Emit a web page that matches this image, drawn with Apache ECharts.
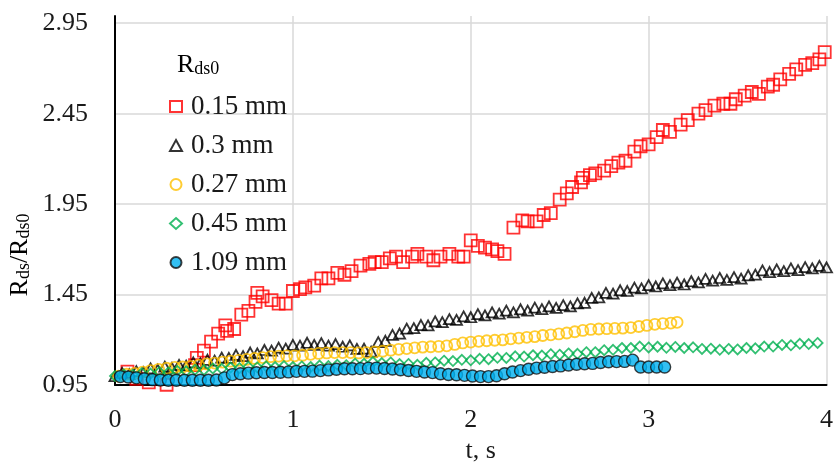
<!DOCTYPE html>
<html><head><meta charset="utf-8">
<script src="https://cdn.jsdelivr.net/npm/echarts@6/dist/echarts.min.js"></script>
<style>html,body{margin:0;padding:0;background:#fff}#c{width:836px;height:469px}</style>
</head><body><div id="c"></div>
<script>
const seriesNames = ['0.15 mm', '0.3 mm', '0.27 mm', '0.45 mm', '1.09 mm'];
const xTicks = [0, 1, 2, 3, 4];
const yTicks = [0.95, 1.45, 1.95, 2.45, 2.95];

const red = [[0.07,1.025],[0.12,0.985],[0.19,0.965],[0.29,0.952],[0.45,1.06],[0.46,1.10],[0.50,1.14],[0.54,1.19],[0.58,1.235],[0.62,1.28],[0.63,1.25],[0.67,1.26],[0.71,1.34],[0.75,1.36],[0.79,1.41],[0.80,1.46],[0.83,1.44],[0.88,1.42],[0.92,1.40],[0.96,1.40],[1.00,1.47],[1.04,1.48],[1.07,1.49],[1.12,1.50],[1.16,1.54],[1.20,1.54],[1.25,1.57],[1.29,1.56],[1.33,1.58],[1.38,1.61],[1.43,1.62],[1.46,1.63],[1.50,1.63],[1.545,1.65],[1.58,1.66],[1.62,1.63],[1.67,1.66],[1.70,1.675],[1.75,1.66],[1.79,1.64],[1.83,1.66],[1.88,1.675],[1.93,1.66],[1.96,1.66],[2.00,1.75],[2.04,1.72],[2.08,1.71],[2.12,1.70],[2.15,1.69],[2.19,1.675],[2.24,1.82],[2.29,1.86],[2.32,1.855],[2.37,1.855],[2.41,1.89],[2.45,1.90],[2.50,1.975],[2.54,2.01],[2.57,2.045],[2.62,2.07],[2.63,2.095],[2.67,2.11],[2.70,2.12],[2.75,2.135],[2.79,2.16],[2.83,2.18],[2.87,2.19],[2.92,2.24],[2.955,2.27],[3.00,2.28],[3.045,2.32],[3.08,2.36],[3.12,2.35],[3.18,2.39],[3.22,2.415],[3.28,2.45],[3.32,2.47],[3.37,2.495],[3.42,2.505],[3.46,2.505],[3.49,2.53],[3.54,2.55],[3.58,2.57],[3.62,2.56],[3.67,2.60],[3.70,2.61],[3.74,2.64],[3.79,2.67],[3.83,2.695],[3.88,2.72],[3.92,2.73],[3.96,2.75],[3.99,2.79]];

const black = [[0.00,1.000],[0.04,1.017],[0.08,1.010],[0.12,1.027],[0.16,1.022],[0.20,1.042],[0.24,1.035],[0.28,1.052],[0.32,1.045],[0.36,1.062],[0.40,1.057],[0.44,1.076],[0.48,1.070],[0.52,1.090],[0.56,1.085],[0.60,1.102],[0.64,1.100],[0.68,1.117],[0.72,1.110],[0.76,1.130],[0.80,1.125],[0.84,1.144],[0.88,1.140],[0.92,1.157],[0.96,1.152],[1.00,1.172],[1.04,1.168],[1.08,1.184],[1.12,1.172],[1.16,1.182],[1.20,1.168],[1.24,1.177],[1.28,1.162],[1.32,1.170],[1.36,1.150],[1.40,1.152],[1.44,1.135],[1.48,1.187],[1.52,1.195],[1.56,1.227],[1.60,1.235],[1.64,1.262],[1.68,1.265],[1.72,1.282],[1.76,1.280],[1.80,1.302],[1.84,1.298],[1.88,1.315],[1.92,1.310],[1.96,1.330],[2.00,1.325],[2.04,1.342],[2.08,1.335],[2.12,1.352],[2.16,1.345],[2.20,1.362],[2.24,1.352],[2.28,1.369],[2.32,1.362],[2.36,1.378],[2.40,1.370],[2.44,1.385],[2.48,1.377],[2.52,1.392],[2.56,1.385],[2.60,1.402],[2.64,1.405],[2.68,1.432],[2.72,1.435],[2.76,1.460],[2.80,1.455],[2.84,1.474],[2.88,1.470],[2.92,1.489],[2.96,1.485],[3.00,1.502],[3.04,1.495],[3.08,1.512],[3.12,1.502],[3.16,1.516],[3.20,1.506],[3.24,1.524],[3.28,1.518],[3.32,1.537],[3.36,1.527],[3.40,1.542],[3.44,1.532],[3.48,1.547],[3.52,1.538],[3.56,1.557],[3.60,1.560],[3.64,1.584],[3.68,1.575],[3.72,1.590],[3.76,1.580],[3.80,1.595],[3.84,1.585],[3.88,1.602],[3.92,1.595],[3.96,1.609],[4.00,1.600]];

const yellow = [[0.02,1.000],[0.065,1.010],[0.11,1.015],[0.155,1.022],[0.20,1.030],[0.245,1.037],[0.29,1.043],[0.335,1.048],[0.38,1.050],[0.425,1.054],[0.47,1.060],[0.515,1.067],[0.56,1.072],[0.605,1.077],[0.65,1.082],[0.695,1.087],[0.74,1.092],[0.785,1.097],[0.83,1.102],[0.875,1.107],[0.92,1.110],[0.965,1.112],[1.01,1.112],[1.055,1.115],[1.10,1.120],[1.145,1.125],[1.19,1.128],[1.235,1.130],[1.28,1.130],[1.325,1.130],[1.37,1.128],[1.415,1.130],[1.46,1.133],[1.505,1.137],[1.55,1.143],[1.595,1.148],[1.64,1.152],[1.685,1.156],[1.73,1.160],[1.775,1.162],[1.82,1.164],[1.865,1.167],[1.91,1.175],[1.955,1.183],[2.00,1.188],[2.045,1.192],[2.09,1.195],[2.135,1.198],[2.18,1.200],[2.225,1.206],[2.27,1.210],[2.315,1.214],[2.36,1.218],[2.405,1.224],[2.45,1.228],[2.495,1.233],[2.54,1.238],[2.585,1.245],[2.63,1.252],[2.675,1.258],[2.72,1.260],[2.765,1.262],[2.81,1.263],[2.855,1.265],[2.90,1.268],[2.945,1.274],[2.99,1.280],[3.035,1.286],[3.08,1.290],[3.125,1.293],[3.16,1.297]];

const green = [[0.00,1.000],[0.05,1.008],[0.10,1.008],[0.15,1.016],[0.20,1.014],[0.25,1.022],[0.30,1.020],[0.35,1.029],[0.40,1.027],[0.45,1.035],[0.50,1.034],[0.55,1.042],[0.60,1.040],[0.65,1.047],[0.70,1.044],[0.75,1.051],[0.80,1.048],[0.85,1.054],[0.90,1.050],[0.95,1.055],[1.00,1.050],[1.05,1.053],[1.10,1.050],[1.15,1.058],[1.20,1.055],[1.25,1.062],[1.30,1.060],[1.35,1.069],[1.40,1.068],[1.45,1.077],[1.50,1.072],[1.55,1.075],[1.60,1.066],[1.65,1.067],[1.70,1.062],[1.75,1.073],[1.80,1.075],[1.85,1.085],[1.90,1.083],[1.95,1.090],[2.00,1.087],[2.05,1.095],[2.10,1.093],[2.15,1.101],[2.20,1.100],[2.25,1.109],[2.30,1.108],[2.35,1.115],[2.40,1.113],[2.45,1.121],[2.50,1.118],[2.55,1.125],[2.60,1.123],[2.65,1.132],[2.70,1.132],[2.75,1.143],[2.80,1.145],[2.85,1.155],[2.90,1.155],[2.95,1.163],[3.00,1.158],[3.05,1.162],[3.10,1.156],[3.15,1.161],[3.20,1.155],[3.25,1.159],[3.30,1.150],[3.35,1.151],[3.40,1.145],[3.45,1.150],[3.50,1.147],[3.55,1.155],[3.60,1.153],[3.65,1.163],[3.70,1.163],[3.75,1.172],[3.80,1.170],[3.85,1.178],[3.90,1.177],[3.95,1.183]];

const blue = [[0.03,0.997],[0.075,0.995],[0.12,0.990],[0.165,0.985],[0.21,0.980],[0.255,0.978],[0.30,0.977],[0.345,0.977],[0.39,0.977],[0.435,0.977],[0.48,0.977],[0.525,0.977],[0.57,0.978],[0.615,0.990],[0.66,1.008],[0.705,1.013],[0.75,1.016],[0.795,1.018],[0.84,1.020],[0.885,1.020],[0.93,1.021],[0.975,1.023],[1.02,1.026],[1.065,1.026],[1.11,1.027],[1.155,1.030],[1.20,1.034],[1.245,1.038],[1.29,1.040],[1.335,1.040],[1.38,1.041],[1.425,1.044],[1.47,1.044],[1.515,1.042],[1.56,1.039],[1.605,1.035],[1.65,1.031],[1.695,1.026],[1.74,1.022],[1.785,1.019],[1.83,1.013],[1.875,1.009],[1.92,1.007],[1.965,1.004],[2.01,1.000],[2.055,0.997],[2.10,0.997],[2.145,1.002],[2.19,1.013],[2.235,1.022],[2.28,1.030],[2.325,1.038],[2.37,1.044],[2.415,1.049],[2.46,1.053],[2.505,1.056],[2.55,1.061],[2.595,1.065],[2.64,1.068],[2.685,1.070],[2.73,1.075],[2.775,1.079],[2.82,1.080],[2.865,1.081],[2.91,1.088],[2.955,1.050],[3.00,1.050],[3.045,1.050],[3.09,1.050]];

const FONT = 'Liberation Serif';
const TXT = '#1a1a1a';
const chart = echarts.init(document.getElementById('c'), null, {renderer: 'canvas'});
const rich = {
  big: {fontFamily: FONT, fontSize: 26, color: TXT},
  sub: {fontFamily: FONT, fontSize: 18, color: TXT, padding: [8, 0, 0, 0]}
};
chart.setOption({
  animation: false,
  backgroundColor: '#fff',
  grid: {left: 115, top: 16, width: 722, bottom: 67},
  graphic: [
    {type: 'text', left: 177, top: 52, style: {text: '{big|R}{sub|ds0}', rich: rich}},
    {type: 'text', x: 20, y: 255, rotation: Math.PI / 2,
      style: {text: '{big|R}{sub|ds}{big|/R}{sub|ds0}', rich: rich, align: 'center', verticalAlign: 'middle'}}
  ],
  legend: {
    orient: 'vertical', left: 164, top: 88, itemGap: 12,
    itemWidth: 12, itemHeight: 11,
    textStyle: {fontFamily: FONT, fontSize: 27, color: TXT, padding: [0, 0, 0, 4]},
    data: seriesNames
  },
  xAxis: {
    type: 'value', min: xTicks[0], max: xTicks[xTicks.length - 1], interval: 1,
    name: 't, s', nameLocation: 'middle', nameGap: 38,
    nameTextStyle: {fontFamily: FONT, fontSize: 26, color: TXT, padding: [0, 0, 0, 20]},
    axisLine: {lineStyle: {color: '#000', width: 2}},
    axisTick: {show: false},
    axisLabel: {fontFamily: FONT, fontSize: 26, color: TXT, margin: 22},
    splitLine: {show: true, lineStyle: {color: '#d9d9d9', width: 1.5}}
  },
  yAxis: {
    type: 'value', min: yTicks[0], max: 2.99, interval: 0.5,
    axisLine: {show: true, lineStyle: {color: '#000', width: 2}},
    axisTick: {show: false},
    axisLabel: {fontFamily: FONT, fontSize: 26, color: TXT, margin: 27, showMaxLabel: false,
      formatter: v => v.toFixed(2)},
    splitLine: {show: true, showMaxLine: false, lineStyle: {color: '#d9d9d9', width: 1.5}}
  },
  series: [
    {name: seriesNames[0], type: 'scatter', data: red, symbol: 'rect', symbolSize: 12,
      itemStyle: {color: 'rgba(255,255,255,0)', borderColor: '#ff0000', borderWidth: 1.8}},
    {name: seriesNames[1], type: 'scatter', data: black, symbol: 'triangle', symbolSize: [11, 10],
      itemStyle: {color: 'rgba(255,255,255,0)', borderColor: '#000', borderWidth: 1.8}},
    {name: seriesNames[2], type: 'scatter', data: yellow, symbol: 'circle', symbolSize: 11,
      itemStyle: {color: 'rgba(255,255,255,0)', borderColor: '#ffc000', borderWidth: 1.8}},
    {name: seriesNames[3], type: 'scatter', data: green, symbol: 'diamond', symbolSize: 10,
      itemStyle: {color: 'rgba(255,255,255,0)', borderColor: '#00b050', borderWidth: 1.8}},
    {name: seriesNames[4], type: 'scatter', data: blue, symbol: 'circle', symbolSize: 12,
      itemStyle: {color: '#00b0f0', borderColor: '#111', borderWidth: 1.4}}
  ]
});
</script></body></html>
